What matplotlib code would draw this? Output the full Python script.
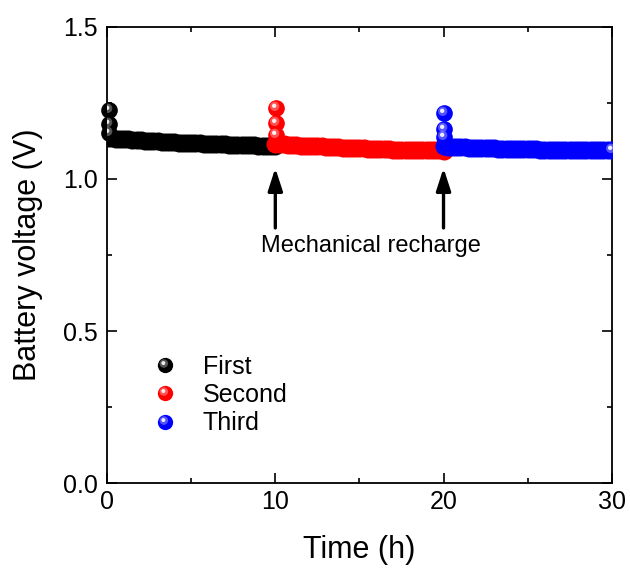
import numpy as np
import matplotlib
matplotlib.use('Agg')
import matplotlib.pyplot as plt
from matplotlib.path import Path
from matplotlib.lines import Line2D
from matplotlib.ticker import MultipleLocator

plt.rcParams['font.family'] = ['Liberation Sans', 'DejaVu Sans']

# voltage readings, sampled every 0.25 h after each recharge
t_first = np.arange(0, 10.001, 0.25)
t_second = np.arange(10, 20.001, 0.25)
t_third = np.arange(20, 30.001, 0.25)

v_first = [1.136, 1.134, 1.133, 1.132, 1.131, 1.130, 1.129, 1.128, 1.127, 1.126,
           1.125, 1.124, 1.124, 1.123, 1.122, 1.121, 1.121, 1.120, 1.119, 1.119,
           1.118, 1.117, 1.117, 1.116, 1.116, 1.115, 1.115, 1.114, 1.114, 1.113,
           1.113, 1.112, 1.112, 1.112, 1.111, 1.111, 1.110, 1.110, 1.110, 1.109,
           1.109]
v_second = [1.116, 1.115, 1.114, 1.113, 1.112, 1.111, 1.110, 1.110, 1.109, 1.108,
            1.107, 1.107, 1.106, 1.105, 1.105, 1.104, 1.103, 1.103, 1.102, 1.102,
            1.101, 1.101, 1.100, 1.100, 1.099, 1.099, 1.098, 1.098, 1.097, 1.097,
            1.097, 1.096, 1.096, 1.096, 1.095, 1.095, 1.095, 1.094, 1.094, 1.094,
            1.093]
v_third = [1.107, 1.106, 1.105, 1.105, 1.104, 1.104, 1.103, 1.103, 1.102, 1.102,
           1.101, 1.101, 1.101, 1.100, 1.100, 1.100, 1.099, 1.099, 1.099, 1.098,
           1.098, 1.098, 1.098, 1.097, 1.097, 1.097, 1.097, 1.096, 1.096, 1.096,
           1.096, 1.096, 1.095, 1.095, 1.095, 1.095, 1.095, 1.095, 1.094, 1.094,
           1.094]

# initial voltage right after each (re)charge
spike_t_first = [0.1, 0.1, 0.1]
spike_v_first = [1.228, 1.182, 1.152]
spike_t_second = [10.03, 10.03, 10.03]
spike_v_second = [1.233, 1.184, 1.145]
spike_t_third = [20.02, 20.02, 20.02]
spike_v_third = [1.217, 1.164, 1.138]

labels = ['First', 'Second', 'Third']
colors = ['#000000', '#ff0000', '#0000ff']
glows = ['#9a9a9a', '#ff9a9a', '#9a9aff']


def spot(cx, cy, r):
    # small disc inside the unit marker box, padded so matplotlib keeps the scale
    c = Path.circle((cx, cy), r)
    verts = np.vstack([[[-0.5, -0.5]], [[0.5, 0.5]], c.vertices])
    codes = np.concatenate([[Path.MOVETO, Path.MOVETO], c.codes])
    return Path(verts, codes)


glow_mk = spot(-0.11, 0.13, 0.28)
spec_mk = spot(-0.14, 0.16, 0.13)
ms = 12
ms_band = 13

fig = plt.figure(figsize=(6.3, 5.68), dpi=100)
ax = fig.add_axes([0.170, 0.1496, 0.801, 0.8029])

series = [(t_first, v_first, spike_t_first, spike_v_first),
          (t_second, v_second, spike_t_second, spike_v_second),
          (t_third, v_third, spike_t_third, spike_v_third)]

handles = []
for i, (t, v, st, sv) in enumerate(series):
    z = 3 + 3 * i
    col, glow = colors[i], glows[i]
    ax.plot(t, v, 'o', ms=ms_band, color=col, mec='none', zorder=z)
    ax.plot(st, sv, 'o', ms=ms, color=col, mec='none', zorder=z, clip_on=False)
    # shading on the points that stay visible
    hx = list(st) + [t[-1]]
    hy = list(sv) + [v[-1]]
    ax.plot(hx, hy, ls='none', marker=glow_mk, ms=ms, color=glow, mec='none',
            alpha=0.55, zorder=z + 1)
    ax.plot(hx, hy, ls='none', marker=spec_mk, ms=ms, color='white', mec='none',
            alpha=0.9, zorder=z + 2)
    handles.append((Line2D([], [], ls='none', marker='o', ms=11, color=col, mec='none'),
                    Line2D([], [], ls='none', marker=glow_mk, ms=11, color=glow,
                           mec='none', alpha=0.55),
                    Line2D([], [], ls='none', marker=spec_mk, ms=11, color='white',
                           mec='none', alpha=0.9)))

ax.set_xlim(0, 30)
ax.set_ylim(0, 1.5)
ax.xaxis.set_major_locator(MultipleLocator(10))
ax.xaxis.set_minor_locator(MultipleLocator(5))
ax.yaxis.set_major_locator(MultipleLocator(0.5))
ax.yaxis.set_minor_locator(MultipleLocator(0.25))
ax.yaxis.set_major_formatter(matplotlib.ticker.FormatStrFormatter('%.1f'))
ax.tick_params(which='both', direction='in', top=True, right=True, width=1.2)
ax.tick_params(which='major', length=7, labelsize=18)
ax.tick_params(which='minor', length=3.5)
ax.tick_params(axis='x', pad=5)
ax.tick_params(axis='y', pad=7)
for s in ax.spines.values():
    s.set_linewidth(1.3)

ax.set_xlabel('Time (h)', fontsize=22, labelpad=15)
ax.set_ylabel('Battery voltage (V)', fontsize=22, labelpad=14)

# recharge markers
for tx in [10, 20]:
    ax.annotate('', xy=(tx, 1.036), xytext=(tx, 0.839),
                arrowprops=dict(arrowstyle='-|>,head_length=0.68,head_width=0.22',
                                lw=2.4, color='black', mutation_scale=20,
                                shrinkA=0, shrinkB=0))
ax.text(15.68, 0.760, 'Mechanical recharge', fontsize=17, ha='center', va='baseline')

ax.legend(handles, labels, loc='upper left', bbox_to_anchor=(0.09, 0.281),
          frameon=False, fontsize=18, handlelength=1.0, handletextpad=1.0,
          labelspacing=0.17, borderpad=0, borderaxespad=0)

fig.savefig('out.png', dpi=100)
